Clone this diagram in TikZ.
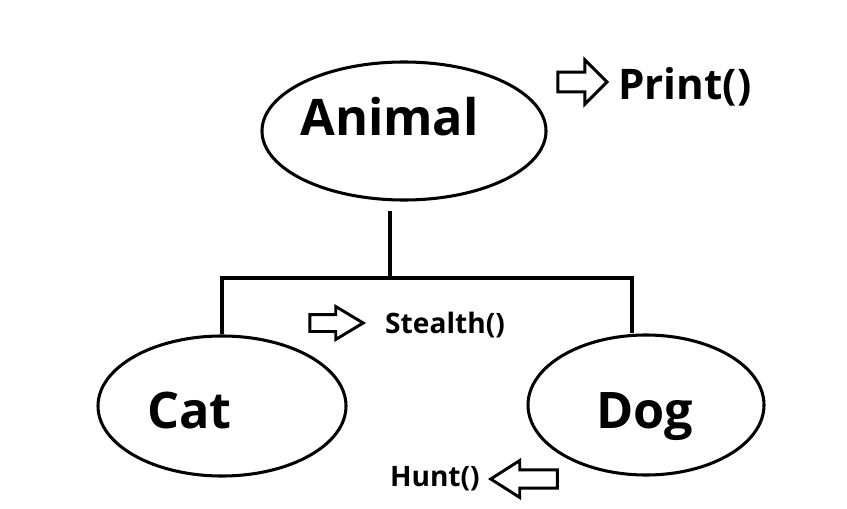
\documentclass[tikz,border=0pt]{standalone}
\usepackage{fontspec}
\setmainfont{Open Sans}
\usetikzlibrary{shapes.geometric, shapes.arrows, positioning, calc}
\tikzset{
    classbox/.style={draw, ellipse, line width=2.6pt, inner sep=0pt},
    classname/.style={font=\fontsize{43}{48}\selectfont\bfseries, inner sep=0pt},
    methodname/.style={font=\fontsize{24}{28}\selectfont\bfseries, inner sep=0pt},
    bigmethod/.style={font=\fontsize{36}{40}\selectfont\bfseries, inner sep=0pt},
    hollowarrow/.style={draw, single arrow, line width=2.5pt, inner xsep=0pt},
    treeline/.style={line width=2.8pt},
}

\begin{document}
\begin{tikzpicture}[x=0.03cm, y=-0.03cm]
    \useasboundingbox (0,0) rectangle (847,508);

    % Classes
    \node[classbox, minimum width=8.52cm, minimum height=4.14cm] (animal) at (404,131) {};
    \node[classname, anchor=base west] (animaltext) at (300,135) {Animal};
    \node[classbox, minimum width=7.44cm, minimum height=4.2cm] (cat) at (222,406) {};
    \node[classname, anchor=base west] (cattext) at (147,428) {Cat};
    \node[classbox, minimum width=7.08cm, minimum height=4.2cm] (dog) at (646,405) {};
    \node[classname, anchor=base west] (dogtext) at (596,428) {Dog};

    % Tree
    \coordinate (busM) at (390,278);
    \coordinate (busL) at (222,278);
    \coordinate (busR) at (632,278);
    \draw[treeline, shorten <=8pt] (animal.south -| busM) -- (busM);
    \draw[treeline] (cat.north -| busL) -- (busL) -- (busR) -- (dog.north -| busR);

    % Methods
    \node[hollowarrow, anchor=tip, inner ysep=0.25cm, minimum height=1.47cm, single arrow head extend=0.37cm, single arrow tip angle=90] (printarrow) at (609,82) {};
    \node[bigmethod, anchor=base west] (print) at (618,100) {Print()};
    \node[hollowarrow, anchor=tip, inner ysep=0.21cm, minimum height=1.6cm, single arrow head extend=0.24cm, single arrow tip angle=62] (stealtharrow) at (366,323) {};
    \node[methodname, anchor=base west] (stealth) at (385,333) {Stealth()};
    \node[hollowarrow, anchor=tip, shape border rotate=180, inner ysep=0.23cm, minimum height=2.0cm, single arrow head extend=0.28cm, single arrow tip angle=65] (huntarrow) at (488,479) {};
    \node[methodname, anchor=base east] (hunt) at (480,486) {Hunt()};
\end{tikzpicture}
\end{document}
